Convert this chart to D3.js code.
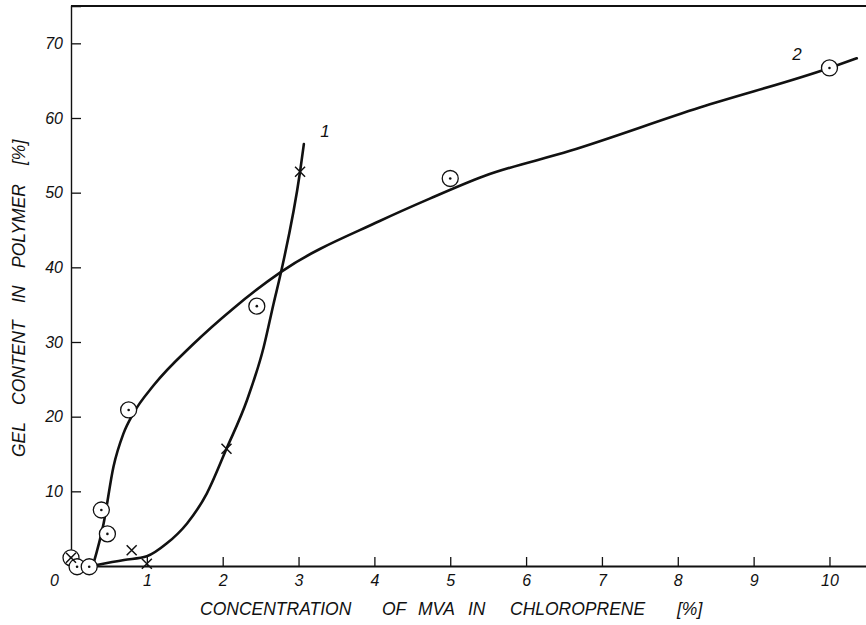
<!DOCTYPE html>
<html>
<head>
<meta charset="utf-8">
<script src="https://cdn.jsdelivr.net/npm/d3@7"></script>
<style>
  html, body { margin: 0; padding: 0; background: #fff; }
  svg { display: block; }
  text { font-family: "Liberation Sans", Arial, sans-serif; font-style: italic; fill: #111; }
</style>
</head>
<body>
<svg id="chart" width="866" height="625"></svg>
<script>
// Measured points: series 1 (crosses) and series 2 (circled dots)
const series1X = [0.0, 0.8, 1.0, 2.05, 3.02];
const series1Y = [1.1, 2.1, 0.3, 15.7, 52.8];
const series2X = [0.0, 0.08, 0.24, 0.40, 0.48, 0.76, 2.45, 5.0, 10.0];
const series2Y = [1.1, -0.1, -0.1, 7.5, 4.3, 20.9, 34.8, 51.9, 66.7];

// Smoothed curves drawn through the data
const curve1X = [0.32, 0.7, 1.0, 1.26, 1.53, 1.79, 2.05, 2.32, 2.54, 2.67, 2.77, 3.02, 3.07];
const curve1Y = [0.1, 0.8, 1.3, 3.0, 5.7, 9.7, 15.7, 22.2, 29.3, 35.1, 39.4, 52.8, 56.5];
const curve2X = [0.29, 0.43, 0.56, 0.69, 0.82, 1.09, 1.61, 2.14, 2.77, 4.07, 4.73, 5.44, 6.58, 8.29, 10.0, 10.36];
const curve2Y = [0.1, 5.7, 13.3, 17.7, 20.4, 24.2, 29.7, 34.5, 39.4, 46.2, 49.2, 52.2, 55.6, 61.4, 66.7, 68.0];

const xTicks = [0, 1, 2, 3, 4, 5, 6, 7, 8, 9, 10];
const yTicks = [10, 20, 30, 40, 50, 60, 70];
const curveLabels = ["1", "2"];
const xTitleWords = ["CONCENTRATION", "OF", "MVA", "IN", "CHLOROPRENE", "[%]"];
const yTitleWords = ["GEL", "CONTENT", "IN", "POLYMER", "[%]"];

const svg = d3.select("#chart");
const x = d3.scaleLinear().domain([0, 10.5]).range([71, 867.4]);
const y = d3.scaleLinear().domain([0, 75]).range([566, 6]);

// frame: top border
svg.append("line")
  .attr("x1", x(0)).attr("x2", 866)
  .attr("y1", y(75)).attr("y2", y(75))
  .attr("stroke", "#111").attr("stroke-width", 2);

// x axis with inward ticks
const xAxis = svg.append("g")
  .attr("transform", `translate(0,${y(0)})`)
  .call(d3.axisBottom(x).tickValues(xTicks).tickSize(-9).tickPadding(9).tickFormat(d3.format("d")));
xAxis.select(".domain").attr("stroke", "#111").attr("stroke-width", 2);
xAxis.selectAll(".tick line").attr("stroke", "#111").attr("stroke-width", 1.3);
xAxis.selectAll(".tick text").attr("font-size", 16).attr("fill", "#111")
  .style("font-family", "'Liberation Sans', Arial, sans-serif").style("font-style", "italic");
// the origin label sits left of the corner and has no tick
xAxis.selectAll(".tick").filter(d => d === 0).select("line").remove();
xAxis.selectAll(".tick").filter(d => d === 0).select("text").attr("x", -17);

// y axis with inward ticks
const yAxis = svg.append("g")
  .attr("transform", `translate(${x(0)},0)`)
  .call(d3.axisLeft(y).tickValues(yTicks).tickSize(-10).tickPadding(8).tickFormat(d3.format("d")));
yAxis.select(".domain").attr("stroke", "#111").attr("stroke-width", 1.4);
yAxis.selectAll(".tick line").attr("stroke", "#111").attr("stroke-width", 1.3);
yAxis.selectAll(".tick text").attr("font-size", 16).attr("fill", "#111")
  .style("font-family", "'Liberation Sans', Arial, sans-serif").style("font-style", "italic");

// curves
const line = d3.line().x(d => x(d[0])).y(d => y(d[1])).curve(d3.curveMonotoneX);
const c1 = curve1X.map((v, i) => [v, curve1Y[i]]);
const c2 = curve2X.map((v, i) => [v, curve2Y[i]]);
[c1, c2].forEach(c => {
  svg.append("path").attr("d", line(c))
    .attr("fill", "none").attr("stroke", "#111")
    .attr("stroke-width", 2.6).attr("stroke-linecap", "round");
});

// series 2 markers: circle with centre dot
const p2 = series2X.map((v, i) => [v, series2Y[i]]);
const g2 = svg.append("g").selectAll("g").data(p2).join("g")
  .attr("transform", d => `translate(${x(d[0])},${y(d[1])})`);
g2.append("circle").attr("r", 8).attr("fill", "#fff").attr("stroke", "#111").attr("stroke-width", 1.3);
g2.append("circle").attr("r", 1.3).attr("fill", "#111");

// series 1 markers: crosses
const p1 = series1X.map((v, i) => [v, series1Y[i]]);
const g1 = svg.append("g").selectAll("g").data(p1).join("g")
  .attr("transform", d => `translate(${x(d[0])},${y(d[1])})`);
g1.append("path").attr("d", "M-5,-5L5,5M-5,5L5,-5")
  .attr("stroke", "#111").attr("stroke-width", 1.5).attr("fill", "none");

// curve numbers
const labelPos = [[3.35, 57.4], [9.57, 67.8]];
svg.selectAll(".clabel").data(curveLabels).join("text")
  .attr("class", "clabel")
  .attr("x", (d, i) => x(labelPos[i][0]))
  .attr("y", (d, i) => y(labelPos[i][1]))
  .attr("text-anchor", "middle")
  .attr("font-size", 17)
  .text(d => d);

// x axis title, word by word with wide spacing
const xWordPos = [200, 382, 418, 468, 510, 677];
svg.selectAll(".xtitle").data(xTitleWords).join("text")
  .attr("class", "xtitle")
  .attr("x", (d, i) => xWordPos[i])
  .attr("y", 615)
  .attr("font-size", 17.5)
  .text(d => d);

// y axis title, rotated, word by word
const yWordPos = [0, 52, 154, 189, 292];
svg.append("g").attr("transform", "translate(25,457) rotate(-90)")
  .selectAll("text").data(yTitleWords).join("text")
  .attr("x", (d, i) => yWordPos[i])
  .attr("y", 0)
  .attr("font-size", 17.5)
  .text(d => d);
</script>
</body>
</html>
